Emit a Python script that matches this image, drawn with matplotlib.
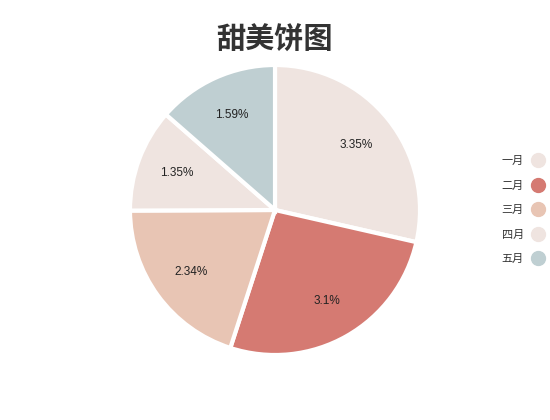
import matplotlib
matplotlib.use("Agg")
import matplotlib.pyplot as plt
from matplotlib.lines import Line2D

plt.rcParams['font.family'] = ['Liberation Sans', 'Noto Sans CJK SC', 'DejaVu Sans']

# Dati
mesi = ["一月", "二月", "三月", "四月", "五月"]
valori = [3.35, 3.1, 2.34, 1.35, 1.59]
colori = ["#efe4e0", "#d57a72", "#e8c5b4", "#efe4e0", "#bfcfd2"]
titolo = "甜美饼图"

totale = sum(valori)

fig = plt.figure(figsize=(5.5, 4.2), dpi=100)
fig.text(0.5, 1 - 40 / 420, titolo, ha="center", va="center",
         fontsize=21, fontweight="bold", color="#333333",
         family=['Noto Sans CJK SC', 'DejaVu Sans'])

ax = fig.add_axes([130 / 550, 65 / 420, 290 / 550, 290 / 420])
ax.pie(valori, colors=colori, startangle=90, counterclock=False,
       autopct=lambda p: f"{round(p * totale / 100, 2):g}%",
       pctdistance=0.72, textprops={"fontsize": 8.5, "color": "#222222"},
       wedgeprops={"edgecolor": "white", "linewidth": 3})
ax.set_xlim(-1, 1)
ax.set_ylim(-1, 1)
ax.set_aspect("equal")

# Legenda
maniglie = [Line2D([0], [0], marker="o", linestyle="", markersize=10,
                   markerfacecolor=c, markeredgecolor=c) for c in colori]
leg = fig.legend(maniglie, mesi, loc="center right", bbox_to_anchor=(1.013, 0.5),
                 frameon=False, markerfirst=False,
                 labelspacing=1.3, handletextpad=0.5, handlelength=1.6,
                 prop={"family": ['Noto Sans CJK SC', 'DejaVu Sans'], "size": 8})
for t in leg.get_texts():
    t.set_color("#333333")

fig.savefig("out.png", dpi=100)
